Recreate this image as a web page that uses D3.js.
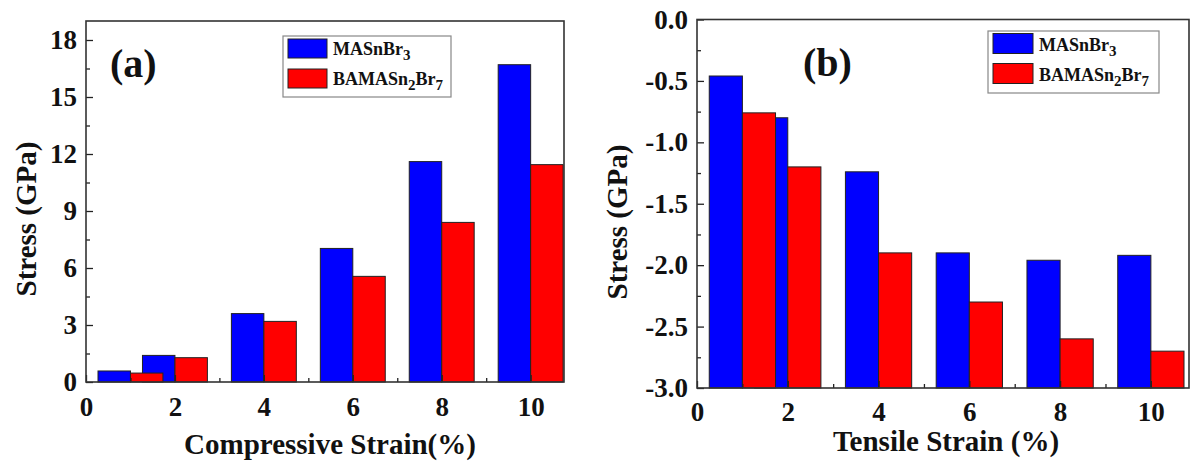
<!DOCTYPE html>
<html>
<head>
<meta charset="utf-8">
<script src="https://cdn.jsdelivr.net/npm/d3@7"></script>
<style>
  body { margin: 0; background: #fff; }
  text { font-family: "Liberation Serif", "Times New Roman", serif; font-weight: bold; fill: #111; }
</style>
</head>
<body>
<div id="chart"></div>
<script>
// Data
const strain = [1, 2, 4, 6, 8, 10];
const compMASnBr3 = [0.58, 1.40, 3.60, 7.03, 11.6, 16.7];
const compBAMASn2Br7 = [0.47, 1.28, 3.19, 5.56, 8.4, 11.44];
const tensMASnBr3 = [-0.46, -0.80, -1.24, -1.90, -1.96, -1.92];
const tensBAMASn2Br7 = [-0.76, -1.20, -1.90, -2.30, -2.60, -2.70];
const xTicks = [0, 2, 4, 6, 8, 10];
const compYTicks = [0, 3, 6, 9, 12, 15, 18];
const tensYTicks = [0, -0.5, -1.0, -1.5, -2.0, -2.5, -3.0];

const colors = ['#0000ff', '#ff0000'];
const barWidth = 0.73;

const svg = d3.select('#chart')
    .append('svg')
    .attr('width', 1191)
    .attr('height', 462);

// plain hyphen instead of unicode minus, like the original figure
const fmtNeg = d => d3.format('.1f')(d).replace('\u2212', '-');

function drawPanel(opt) {
    const x = d3.scaleLinear().domain(opt.xDomain).range([opt.left, opt.right]);
    const y = d3.scaleLinear().domain(opt.yDomain).range([opt.bottom, opt.top]);
    const base = opt.yDomain[0];
    const g = svg.append('g');

    // Bars: blue series first, red on top
    [opt.s1, opt.s2].forEach((vals, i) => {
        g.selectAll(null)
            .data(vals.map((v, j) => ({ s: strain[j], v })))
            .enter()
            .append('rect')
            .attr('x', d => i === 0 ? x(d.s - barWidth) : x(d.s))
            .attr('width', d => x(d.s + barWidth) - x(d.s))
            .attr('y', d => y(d.v))
            .attr('height', d => y(base) - y(d.v))
            .attr('fill', colors[i])
            .attr('stroke', '#222')
            .attr('stroke-width', 1);
    });

    // Axes with inward ticks
    const xAxis = g.append('g')
        .attr('transform', `translate(0,${opt.bottom})`)
        .call(d3.axisBottom(x).tickValues(xTicks).tickSize(-7).tickPadding(opt.xPad).tickFormat(d3.format('d')));
    const xMinor = g.append('g')
        .attr('transform', `translate(0,${opt.bottom})`)
        .call(d3.axisBottom(x).tickValues([1, 3, 5, 7, 9]).tickSize(-4).tickFormat(''));
    const yAxis = g.append('g')
        .attr('transform', `translate(${opt.left},0)`)
        .call(d3.axisLeft(y).tickValues(opt.yTicks).tickSize(-7).tickPadding(9).tickFormat(opt.yFmt));
    const minorVals = opt.yTicks.slice(0, -1).map((t, i) => (t + opt.yTicks[i + 1]) / 2);
    const yMinor = g.append('g')
        .attr('transform', `translate(${opt.left},0)`)
        .call(d3.axisLeft(y).tickValues(minorVals).tickSize(-4).tickFormat(''));

    [xAxis, xMinor, yAxis, yMinor].forEach(a => {
        a.select('.domain').remove();
        a.selectAll('line').attr('stroke', '#222').attr('stroke-width', 1.3);
        a.selectAll('text')
            .attr('font-size', '27px')
            .attr('font-family', '"Liberation Serif", "Times New Roman", serif')
            .attr('font-weight', 'bold')
            .attr('fill', '#111');
    });

    // Frame
    g.append('rect')
        .attr('x', opt.left).attr('y', opt.top)
        .attr('width', opt.right - opt.left)
        .attr('height', opt.bottom - opt.top)
        .attr('fill', 'none')
        .attr('stroke', '#333')
        .attr('stroke-width', 1.6);

    // Axis titles
    g.append('text')
        .attr('x', opt.xTitlePos[0]).attr('y', opt.xTitlePos[1])
        .attr('text-anchor', 'middle')
        .attr('font-size', '29px')
        .text(opt.xTitle);
    g.append('text')
        .attr('transform', `translate(${opt.yTitlePos[0]},${opt.yTitlePos[1]}) rotate(-90)`)
        .attr('text-anchor', 'middle')
        .attr('dy', '0.35em')
        .attr('font-size', '29px')
        .text('Stress (GPa)');

    // Panel label
    g.append('text')
        .attr('x', opt.labelPos[0]).attr('y', opt.labelPos[1])
        .attr('font-size', '40px')
        .text(opt.label);

    // Legend
    const L = opt.legend;
    g.append('rect')
        .attr('x', L.x).attr('y', L.y)
        .attr('width', L.w).attr('height', L.h)
        .attr('fill', '#fff')
        .attr('stroke', '#888')
        .attr('stroke-width', 1.2);
    [0, 1].forEach(i => {
        const yy = L.y + L.sy + i * L.step;
        g.append('rect')
            .attr('x', L.x + 5).attr('y', yy)
            .attr('width', L.sw).attr('height', L.sh)
            .attr('fill', colors[i])
            .attr('stroke', '#222')
            .attr('stroke-width', 1);
        const t = g.append('text')
            .attr('x', L.x + L.sw + 11)
            .attr('y', yy + L.sh - 3)
            .attr('font-size', '18px');
        if (i === 0) {
            t.append('tspan').text('MASnBr');
            t.append('tspan').attr('dy', 5).attr('font-size', '15px').text('3');
        } else {
            t.append('tspan').text('BAMASn');
            t.append('tspan').attr('dy', 5).attr('font-size', '15px').text('2');
            t.append('tspan').attr('dy', -5).text('Br');
            t.append('tspan').attr('dy', 5).attr('font-size', '15px').text('7');
        }
    });
}

drawPanel({
    left: 86, right: 564, top: 21, bottom: 382,
    xDomain: [0, 10.75], yDomain: [0, 19],
    s1: compMASnBr3, s2: compBAMASn2Br7,
    yTicks: compYTicks, yFmt: d3.format('d'), xPad: 15,
    xTitle: 'Compressive Strain(%)', xTitlePos: [330, 454],
    yTitlePos: [26, 219],
    label: '(a)', labelPos: [110, 77],
    legend: { x: 283, y: 36, w: 168, h: 61, sy: 3, step: 30, sw: 39, sh: 19 }
});

drawPanel({
    left: 697, right: 1189, top: 19.5, bottom: 388,
    xDomain: [0, 10.84], yDomain: [-3, 0],
    s1: tensMASnBr3, s2: tensBAMASn2Br7,
    yTicks: tensYTicks, yFmt: fmtNeg, xPad: 14,
    xTitle: 'Tensile Strain (%)', xTitlePos: [946, 451],
    yTitlePos: [617, 222],
    label: '(b)', labelPos: [803, 76],
    legend: { x: 988, y: 31, w: 171, h: 62, sy: 2.5, step: 30, sw: 40, sh: 20 }
});
</script>
</body>
</html>
